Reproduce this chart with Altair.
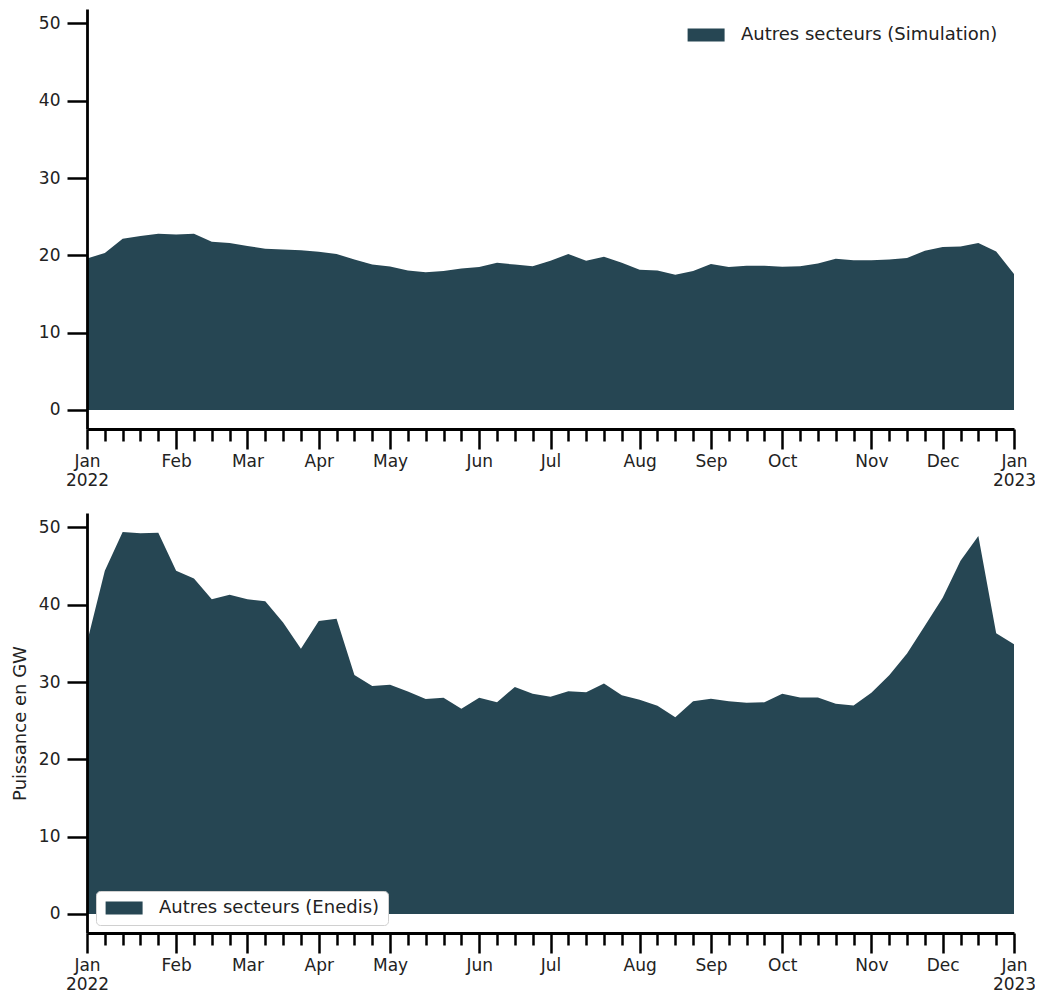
import json
import altair as alt
import pandas as pd

# ---- data (weekly, 2022) ----
weeks = list(range(53))
simulation = [19.6, 20.3, 22.15, 22.5, 22.8, 22.7, 22.8, 21.76, 21.6, 21.2,
              20.85, 20.77, 20.65, 20.46, 20.16, 19.47, 18.8, 18.56, 18.05, 17.8,
              17.96, 18.3, 18.5, 19.04, 18.8, 18.6, 19.3, 20.16, 19.3, 19.8,
              19.04, 18.13, 18.05, 17.49, 17.96, 18.87, 18.48, 18.65, 18.65, 18.52,
              18.6, 18.95, 19.56, 19.35, 19.35, 19.47, 19.65, 20.6, 21.07, 21.15,
              21.6, 20.5, 17.6]
enedis = [35.1, 44.4, 49.4, 49.26, 49.3, 44.4, 43.4, 40.7, 41.3, 40.7,
          40.45, 37.7, 34.3, 37.9, 38.2, 30.9, 29.5, 29.66, 28.76, 27.8,
          27.98, 26.55, 27.98, 27.4, 29.36, 28.5, 28.1, 28.8, 28.67, 29.8,
          28.28, 27.7, 26.94, 25.43, 27.5, 27.85, 27.5, 27.33, 27.37, 28.5,
          28.0, 28.0, 27.2, 26.98, 28.6, 30.87, 33.7, 37.27, 40.9, 45.7,
          48.9, 36.3, 34.9]
series_top = "Autres secteurs (Simulation)"
series_bottom = "Autres secteurs (Enedis)"
month_ticks = [0, 5, 9, 13, 17, 22, 26, 31, 35, 39, 44, 48, 52]
month_labels = [["Jan", "2022"], "Feb", "Mar", "Apr", "May", "Jun", "Jul",
                "Aug", "Sep", "Oct", "Nov", "Dec", ["Jan", "2023"]]
y_ticks = [0, 10, 20, 30, 40, 50]
y_title = "Puissance en GW"

COLOR = "#264653"
FONT = "DejaVu Sans"
TXT = "#222222"

df_top = pd.DataFrame({"week": weeks, "value": simulation, "serie": series_top})
df_bot = pd.DataFrame({"week": weeks, "value": enedis, "serie": series_bottom})

ticks_js = json.dumps(month_ticks)
labels_js = json.dumps(month_labels)
label_expr = (f"indexof({ticks_js}, datum.value) < 0 ? '' : "
              f"{labels_js}[indexof({ticks_js}, datum.value)]")

x_axis = alt.Axis(
    values=weeks, labelExpr=label_expr, labelOverlap=False, labelFlush=False,
    tickSize={"condition": {"test": f"indexof({ticks_js}, datum.value) >= 0", "value": 20}, "value": 12},
    tickWidth=2.5, tickColor="black", domainColor="black", domainWidth=2.8,
    labelFont=FONT, labelFontSize=17, labelColor=TXT, labelPadding=4,
    labelLineHeight=19, labelBaseline="top", grid=False, zindex=1, title=None,
)


def y_axis(title):
    kw = dict(values=y_ticks, tickSize=20, tickWidth=2.5, tickColor="black",
              domainColor="black", domainWidth=2.8, labelFont=FONT,
              labelFontSize=17, labelColor=TXT, labelPadding=7, grid=False,
              zindex=1, titleFont=FONT, titleFontSize=18, titleFontWeight="normal",
              titleColor=TXT, titlePadding=9)
    return alt.Axis(**kw)


# legend patch: 37 x 13 px rectangle drawn from the symbol's left edge
RECT = "M-1,-0.88H4V0.88H-1Z"


def legend(x, y, stroke):
    return alt.Legend(title=None, orient="none", legendX=x, legendY=y,
                      symbolType=RECT, symbolSize=219, symbolStrokeWidth=0,
                      symbolOpacity=1, labelFont=FONT, labelFontSize=18,
                      labelColor=TXT, labelOffset=37, labelLimit=400,
                      padding=8, fillColor="white", strokeColor=stroke,
                      cornerRadius=4)


def panel(df, title, leg):
    return alt.Chart(df).mark_area(opacity=1).encode(
        x=alt.X("week:Q", scale=alt.Scale(domain=[0, 52], nice=False, zero=False), axis=x_axis),
        y=alt.Y("value:Q", scale=alt.Scale(domain=[-2.47, 51.87], nice=False, zero=False),
                axis=y_axis(title), title=title),
        y2=alt.datum(0),
        color=alt.Color("serie:N", scale=alt.Scale(range=[COLOR]), legend=leg),
    ).properties(width=927, height=420)


top = panel(df_top, None, legend(591, 9, "white"))
bottom = panel(df_bot, y_title, legend(9, 378, "#d0d0d0"))

chart = alt.vconcat(top, bottom, spacing=25).resolve_scale(
    color="independent"
).resolve_legend(color="independent").properties(
    padding={"left": 3, "top": 1, "right": -1, "bottom": 0},
    background="white",
).configure_view(strokeWidth=0)

chart.save("out.html", embed_options={"renderer": "svg", "actions": False})
